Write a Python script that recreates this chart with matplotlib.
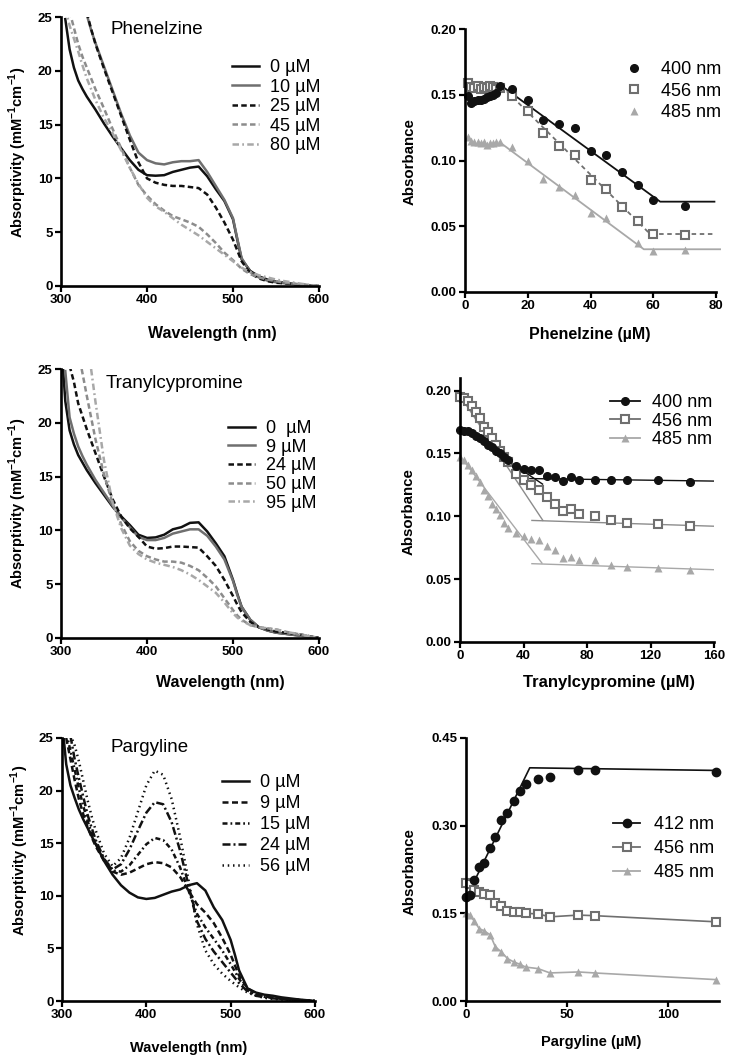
import numpy as np
import matplotlib.pyplot as plt
from matplotlib.lines import Line2D

plt.rcParams['font.family'] = ['Liberation Sans', 'DejaVu Sans']
plt.rcParams['mathtext.fontset'] = 'custom'
plt.rcParams['mathtext.rm'] = 'Liberation Sans'
plt.rcParams['mathtext.bf'] = 'Liberation Sans:bold'

nan = np.nan
W, H = 734, 1063

# ---------------- spectra (absorptivity, mM-1 cm-1) ----------------
WL = [302, 305, 310, 315, 320, 325, 330, 335, 340, 350, 360, 370, 380, 390, 400,
      410, 420, 430, 440, 450, 460, 470, 480, 490, 500, 505, 510, 520, 530, 540,
      550, 560, 580, 600]

phen_labels = ['0 µM', '10 µM', '25 µM', '45 µM', '80 µM']
phen_0 = [nan, 24.8, 22.0, 20.3, 19.1, 18.3, 17.6, 17.0, 16.4, 15.1, 13.9, 12.8, 11.7, 10.8, 10.3,
          10.25, 10.3, 10.6, 10.8, 11.0, 11.1, 10.2, 9.0, 7.9, 6.2, 4.3, 2.5, 1.4, 0.9, 0.6,
          0.4, 0.3, 0.1, 0.0]
phen_10 = [nan, nan, nan, nan, nan, nan, 25.2, 23.8, 22.6, 20.4, 18.2, 16.0, 14.0, 12.4, 11.7,
           11.4, 11.3, 11.5, 11.6, 11.6, 11.7, 10.6, 9.3, 8.0, 6.3, 4.4, 2.6, 1.3, 0.8, 0.5,
           0.35, 0.25, 0.1, 0.0]
phen_25 = [nan, nan, nan, nan, nan, nan, 25.4, 23.9, 22.5, 20.2, 18.0, 15.8, 13.6, 11.5, 10.0,
           9.6, 9.4, 9.3, 9.3, 9.2, 9.1, 8.5, 7.3, 5.9, 4.3, 3.3, 2.3, 1.2, 0.7, 0.45,
           0.3, 0.25, 0.1, 0.0]
phen_45 = [nan, nan, 25.5, 24.0, 22.5, 21.3, 20.3, 19.3, 18.3, 16.5, 14.6, 12.8, 11.0, 9.4, 8.4,
           7.6, 7.0, 6.5, 6.2, 5.9, 5.5, 4.8, 4.0, 3.1, 2.4, 2.0, 1.6, 1.1, 0.8, 0.6,
           0.45, 0.3, 0.15, 0.0]
phen_80 = [nan, 25.8, 24.2, 23.0, 21.8, 20.5, 19.3, 18.3, 17.3, 15.6, 14.2, 12.6, 11.0, 9.5, 8.2,
           7.4, 6.9, 6.3, 5.7, 5.2, 4.7, 4.1, 3.5, 2.9, 2.3, 2.0, 1.7, 1.3, 1.0, 0.8,
           0.6, 0.45, 0.2, 0.0]

tran_labels = ['0  µM', '9 µM', '24 µM', '50 µM', '95 µM']
tran_0 = [25.5, 22.0, 19.3, 18.0, 17.0, 16.3, 15.6, 15.0, 14.4, 13.3, 12.2, 11.3, 10.5, 9.6, 9.3,
          9.35, 9.6, 10.1, 10.3, 10.7, 10.75, 9.9, 8.8, 7.6, 5.4, 4.1, 2.9, 1.7, 1.0, 0.7,
          0.5, 0.4, 0.2, 0.0]
tran_9 = [nan, 24.8, 20.5, 19.0, 17.8, 16.9, 16.1, 15.4, 14.7, 13.5, 12.3, 11.2, 10.3, 9.4, 9.1,
          9.1, 9.3, 9.7, 9.9, 10.1, 10.1, 9.5, 8.5, 7.3, 5.3, 4.0, 2.9, 1.7, 1.0, 0.7,
          0.5, 0.4, 0.2, 0.0]
tran_24 = [nan, nan, 25.3, 23.8, 21.8, 20.6, 19.4, 18.3, 17.2, 15.0, 12.9, 11.3, 10.2, 9.4, 8.5,
           8.3, 8.35, 8.5, 8.5, 8.45, 8.4, 7.6, 6.7, 5.4, 3.9, 3.1, 2.4, 1.5, 1.0, 0.8,
           0.6, 0.5, 0.3, 0.0]
tran_50 = [nan, nan, nan, nan, 26.6, 24.6, 22.5, 20.5, 18.5, 15.2, 12.5, 10.6, 9.0, 8.1, 7.6,
           7.3, 7.1, 7.1, 7.0, 6.7, 6.3, 5.6, 4.8, 3.7, 2.6, 2.1, 1.7, 1.2, 1.0, 0.9,
           0.8, 0.6, 0.3, 0.0]
tran_95 = [nan, nan, nan, nan, nan, nan, nan, 25.0, 22.0, 16.5, 12.6, 10.2, 8.6, 7.8, 7.3,
           7.0, 6.8, 6.6, 6.3, 5.9, 5.4, 4.8, 4.2, 3.3, 2.3, 1.9, 1.6, 1.2, 1.0, 0.9,
           0.8, 0.6, 0.3, 0.0]

parg_labels = ['0 µM', '9 µM', '15 µM', '24 µM', '56 µM']
parg_0 = [25.0, 22.5, 20.5, 19.3, 18.2, 17.3, 16.5, 15.7, 14.9, 13.3, 12.0, 11.0, 10.3, 9.85, 9.7,
          9.8, 10.1, 10.4, 10.6, 11.0, 11.2, 10.5, 8.9, 7.7, 5.8, 4.4, 2.9, 1.2, 0.8, 0.6,
          0.5, 0.35, 0.15, 0.0]
parg_9 = [nan, 25.0, 23.0, 21.0, 19.2, 17.8, 16.6, 15.6, 14.7, 13.3, 12.3, 12.0, 12.2, 12.6, 13.0,
          13.2, 13.1, 12.7, 11.8, 10.5, 9.2, 8.4, 7.4, 6.0, 4.4, 3.4, 2.4, 1.2, 0.7, 0.45,
          0.3, 0.2, 0.1, 0.0]
parg_15 = [nan, 25.5, 23.8, 22.0, 20.2, 18.6, 17.2, 16.0, 15.0, 13.4, 12.4, 12.3, 12.9, 13.9, 14.9,
           15.5, 15.3, 14.4, 12.7, 10.5, 8.3, 7.0, 5.9, 4.8, 3.5, 2.8, 2.1, 1.0, 0.6, 0.4,
           0.3, 0.2, 0.1, 0.0]
parg_24 = [nan, nan, 25.2, 23.0, 21.2, 19.5, 17.8, 16.5, 15.3, 13.5, 12.5, 13.0, 14.4, 16.2, 17.9,
           18.9, 18.7, 17.0, 14.3, 11.0, 7.6, 5.9, 4.7, 3.7, 2.7, 2.2, 1.7, 0.9, 0.5, 0.35,
           0.25, 0.2, 0.1, 0.0]
parg_56 = [nan, nan, 25.3, 24.3, 22.8, 21.0, 19.2, 17.6, 16.2, 14.0, 12.8, 13.6, 15.5, 18.0, 20.5,
           21.9, 21.5, 19.2, 15.6, 11.5, 7.3, 4.8, 3.5, 2.6, 1.9, 1.6, 1.3, 0.8, 0.5, 0.3,
           0.2, 0.15, 0.05, 0.0]

# ---------------- titrations (absorbance) ----------------
phen_c = [1, 2, 3, 4, 5, 6, 7, 8, 9, 10, 11, 15, 20, 25, 30, 35, 40, 45, 50, 55, 60, 70]
phen_a400 = [0.149, 0.144, 0.145, 0.146, 0.146, 0.147, 0.148, 0.149, 0.150, 0.151, 0.157,
             0.154, 0.146, 0.131, 0.1275, 0.125, 0.107, 0.104, 0.0915, 0.081, 0.070, 0.0657]
phen_a456 = [0.159, 0.156, 0.155, 0.157, 0.154, 0.156, 0.155, 0.157, 0.156, 0.154, 0.155,
             0.149, 0.1376, 0.1207, 0.111, 0.104, 0.085, 0.078, 0.065, 0.054, 0.044, 0.043]
phen_a485 = [0.118, 0.115, 0.114, 0.114, 0.113, 0.114, 0.112, 0.113, 0.113, 0.114, 0.114,
             0.110, 0.0995, 0.086, 0.080, 0.074, 0.060, 0.056, nan, 0.037, 0.031, 0.032]
phen_fit400_c, phen_fit400_a = [11.5, 62.2, 79.5], [0.157, 0.0687, 0.0687]
phen_fit456_c, phen_fit456_a = [11.5, 59.0, 79.5], [0.157, 0.0441, 0.0441]
phen_fit485_c, phen_fit485_a = [11.0, 57.0, 81.3], [0.114, 0.0325, 0.0325]

tran_c = [0, 2.5, 5, 7.5, 10, 12.5, 15, 17.5, 20, 22.5, 25, 27.5, 30, 35, 40, 45, 50, 55, 60,
          65, 70, 75, 85, 95, 105, 125, 145]
tran_a400 = [0.169, 0.168, 0.168, 0.166, 0.164, 0.162, 0.160, 0.157, 0.155, 0.152, 0.150, 0.147,
             0.145, 0.140, 0.138, 0.137, 0.137, 0.132, 0.131, 0.128, 0.131, 0.129, 0.129, 0.129,
             0.1285, 0.1285, 0.127]
tran_a456 = [0.195, 0.194, 0.192, 0.188, 0.183, 0.178, 0.171, 0.167, 0.162, 0.157, 0.152, 0.147,
             0.143, 0.134, 0.129, 0.125, 0.121, 0.115, 0.110, 0.104, 0.106, 0.102, 0.100, 0.097,
             0.095, 0.0935, 0.092]
tran_a485 = [0.147, 0.145, 0.141, 0.137, 0.132, 0.127, 0.121, 0.116, 0.110, 0.106, 0.101, 0.095,
             0.091, 0.087, 0.084, 0.082, 0.081, 0.076, 0.073, 0.067, 0.068, 0.0655, 0.065, 0.061,
             0.060, 0.0586, 0.0575]
tran_fit400_c, tran_fit400_a = [0, 52], [0.170, 0.1256]
tran_flat400_c, tran_flat400_a = [44, 160], [0.130, 0.128]
tran_fit456_c, tran_fit456_a = [0, 52.2], [0.196, 0.0967]
tran_flat456_c, tran_flat456_a = [45.3, 160], [0.0967, 0.0921]
tran_fit485_c, tran_fit485_a = [0, 51.6], [0.148, 0.0628]
tran_flat485_c, tran_flat485_a = [45.3, 160], [0.0623, 0.0575]

parg_c = [0, 2, 4, 6.5, 9, 12, 14.5, 17.5, 20.5, 23.5, 26.5, 29.5, 35.5, 41.5, 55.5, 63.5, 123.5]
parg_a412 = [0.178, 0.181, 0.207, 0.229, 0.236, 0.261, 0.280, 0.309, 0.322, 0.343, 0.359, 0.371,
             0.379, 0.383, 0.396, 0.395, 0.392]
parg_a456 = [0.202, 0.200, 0.190, 0.186, 0.183, 0.181, 0.167, 0.163, 0.154, 0.153, 0.153, 0.150,
             0.149, 0.144, 0.147, 0.146, 0.1355]
parg_a485 = [0.151, 0.147, 0.137, 0.124, 0.120, 0.113, 0.0926, 0.084, 0.0726, 0.067, 0.063, 0.058,
             0.0555, 0.048, 0.0497, 0.048, 0.0366]
parg_fit412_c, parg_fit412_a = [2, 31.5, 123.5], [0.190, 0.399, 0.3945]

# ---------------- styles ----------------
BLK = '#111111'
G1 = '#6f6f6f'
G2 = '#8c8c8c'
G3 = '#a8a8a8'
LEG = 13
spec_styles = [
    dict(color=BLK, ls='-'),
    dict(color=G1, ls='-'),
    dict(color=BLK, ls=(0, (2.2, 1.3))),
    dict(color=G2, ls=(0, (2.2, 1.3))),
    dict(color=G3, ls=(0, (2.6, 1.3, 0.7, 1.3))),
]
parg_styles = [
    dict(color=BLK, ls='-'),
    dict(color=BLK, ls=(0, (2.4, 1.4))),
    dict(color=BLK, ls=(0, (2.0, 1.2, 0.7, 1.2))),
    dict(color=BLK, ls=(0, (3.2, 1.2, 0.8, 1.2))),
    dict(color=BLK, ls=(0, (0.6, 1.5))),
]

fig = plt.figure(figsize=(W / 100, H / 100), dpi=100)


def add_ax(left, top, right, bottom):
    return fig.add_axes([left / W, 1 - bottom / H, (right - left) / W, (bottom - top) / H])


def style(ax):
    for s in ['top', 'right']:
        ax.spines[s].set_visible(False)
    for s in ['left', 'bottom']:
        ax.spines[s].set_linewidth(1.9)
    ax.tick_params(direction='out', length=4, width=1.6, labelsize=9.5, pad=2)
    for lab in ax.get_xticklabels() + ax.get_yticklabels():
        lab.set_fontweight('bold')


def fig_text(x, y, s, **kw):
    fig.text(x / W, 1 - y / H, s, **kw)


def spectra(ax, curves, labels, styles, leg_xy, spacing):
    for y, lab, st in zip(curves, labels, styles):
        ax.plot(WL, y, lw=1.8, label=lab, **st)
    ax.set_xlim(300, 600)
    ax.set_ylim(0, 25)
    ax.set_xticks([300, 400, 500, 600])
    ax.set_yticks([0, 5, 10, 15, 20, 25])
    style(ax)
    ax.legend(loc='upper left', bbox_to_anchor=(leg_xy[0] / W, 1 - leg_xy[1] / H),
              bbox_transform=fig.transFigure, frameon=False, prop={'size': LEG},
              handlelength=1.5, handletextpad=0.6, borderpad=0, borderaxespad=0,
              labelspacing=spacing)


ylab_spec = r'Absorptivity (mM$^{\mathbf{-1}}$cm$^{\mathbf{-1}}$)'

# ---- Phenelzine spectra ----
ax1 = add_ax(61, 17, 319, 286)
spectra(ax1, [phen_0, phen_10, phen_25, phen_45, phen_80], phen_labels, spec_styles, (232, 59), 0.14)
fig_text(110, 30, 'Phenelzine', fontsize=13.5, va='center')
fig_text(212, 334, 'Wavelength (nm)', fontsize=11.5, fontweight='bold', ha='center', va='center')
fig_text(18, 152, ylab_spec, fontsize=10.5, fontweight='bold', rotation=90, ha='center', va='center')

# ---- Tranylcypromine spectra ----
ax3 = add_ax(61, 369, 319, 638)
spectra(ax3, [tran_0, tran_9, tran_24, tran_50, tran_95], tran_labels, spec_styles, (228, 420), 0.09)
fig_text(106, 383, 'Tranylcypromine', fontsize=13.5, va='center')
fig_text(220, 682, 'Wavelength (nm)', fontsize=11.5, fontweight='bold', ha='center', va='center')
fig_text(18, 503, ylab_spec, fontsize=10.5, fontweight='bold', rotation=90, ha='center', va='center')

# ---- Pargyline spectra ----
ax5 = add_ax(62, 738, 315, 1001)
spectra(ax5, [parg_0, parg_9, parg_15, parg_24, parg_56], parg_labels, parg_styles, (222, 774), 0.22)
fig_text(110, 748, 'Pargyline', fontsize=13.5, va='center')
fig_text(189, 1048, 'Wavelength (nm)', fontsize=10.5, fontweight='bold', ha='center', va='center')
fig_text(20, 850, ylab_spec, fontsize=10.5, fontweight='bold', rotation=90, ha='center', va='center')

# ---- Phenelzine titration ----
ax2 = add_ax(465, 29, 716, 292)
ax2.plot(phen_fit400_c, phen_fit400_a, color=BLK, lw=1.3, clip_on=False)
ax2.plot(phen_fit456_c, phen_fit456_a, color=G1, lw=1.3, ls=(0, (2.5, 2)), clip_on=False)
ax2.plot(phen_fit485_c, phen_fit485_a, color=G3, lw=1.3, clip_on=False)
ax2.plot(phen_c, phen_a485, '^', color=G3, ms=5.5, mec='none', ls='none', clip_on=False, label='485 nm')
ax2.plot(phen_c, phen_a456, 's', mfc='white', mec=G1, mew=1.5, ms=5.8, ls='none', clip_on=False, label='456 nm')
ax2.plot(phen_c, phen_a400, 'o', color=BLK, ms=5.5, ls='none', clip_on=False, label='400 nm')
ax2.set_xlim(0, 80)
ax2.set_ylim(0, 0.20)
ax2.set_xticks([0, 20, 40, 60, 80])
ax2.set_yticks([0, 0.05, 0.10, 0.15, 0.20])
ax2.yaxis.set_major_formatter('{x:.2f}')
style(ax2)
h, l = ax2.get_legend_handles_labels()
ax2.legend(h[::-1], l[::-1], loc='upper left', bbox_to_anchor=(625 / W, 1 - 61 / H),
           bbox_transform=fig.transFigure, frameon=False, prop={'size': LEG}, numpoints=1,
           handlelength=1.0, handletextpad=1.0, borderpad=0, borderaxespad=0, labelspacing=0.26)
fig_text(590, 335, 'Phenelzine (µM)', fontsize=11.5, fontweight='bold', ha='center', va='center')
fig_text(410, 162, 'Absorbance', fontsize=10.8, fontweight='bold', rotation=90, ha='center', va='center')

# ---- Tranylcypromine titration ----
ax4 = add_ax(460, 378, 714, 642)
ax4.plot(tran_fit400_c, tran_fit400_a, color=BLK, lw=1.0)
ax4.plot(tran_flat400_c, tran_flat400_a, color=BLK, lw=1.0)
ax4.plot(tran_fit456_c, tran_fit456_a, color=G2, lw=1.0)
ax4.plot(tran_flat456_c, tran_flat456_a, color=G2, lw=1.0)
ax4.plot(tran_fit485_c, tran_fit485_a, color=G3, lw=1.0)
ax4.plot(tran_flat485_c, tran_flat485_a, color=G3, lw=1.0)
ax4.plot(tran_c, tran_a485, '^', color=G3, ms=5.5, mec='none', ls='none', clip_on=False)
ax4.plot(tran_c, tran_a456, 's', mfc='white', mec=G1, mew=1.5, ms=6, ls='none', clip_on=False)
ax4.plot(tran_c, tran_a400, 'o', color=BLK, ms=5.5, ls='none', clip_on=False)
ax4.set_xlim(0, 160)
ax4.set_ylim(0, 0.21)
ax4.set_xticks([0, 40, 80, 120, 160])
ax4.set_yticks([0, 0.05, 0.10, 0.15, 0.20])
ax4.yaxis.set_major_formatter('{x:.2f}')
style(ax4)
hd4 = [Line2D([], [], color=BLK, lw=1.3, marker='o', ms=5.5),
       Line2D([], [], color=G1, lw=1.3, marker='s', mfc='white', mec=G1, mew=1.5, ms=6),
       Line2D([], [], color=G3, lw=1.3, marker='^', mec='none', ms=5.5)]
ax4.legend(hd4, ['400 nm', '456 nm', '485 nm'], loc='upper left',
           bbox_to_anchor=(610 / W, 1 - 394 / H), bbox_transform=fig.transFigure, frameon=False,
           prop={'size': LEG}, handlelength=1.65, handletextpad=0.65, borderpad=0, borderaxespad=0,
           labelspacing=0.09)
fig_text(609, 682, 'Tranylcypromine (µM)', fontsize=12, fontweight='bold', ha='center', va='center')
fig_text(409, 512, 'Absorbance', fontsize=10.8, fontweight='bold', rotation=90, ha='center', va='center')

# ---- Pargyline titration ----
ax6 = add_ax(466, 738, 719, 1001)
ax6.plot(parg_fit412_c, parg_fit412_a, color=BLK, lw=1.2)
ax6.plot(parg_c, parg_a485, '-^', color=G3, lw=1.2, ms=5.5, mec='none', clip_on=False)
ax6.plot(parg_c, parg_a456, '-s', color=G1, lw=1.2, mfc='white', mec=G1, mew=1.5, ms=6, clip_on=False)
ax6.plot(parg_c, parg_a412, 'o', color=BLK, ms=6, ls='none', clip_on=False)
ax6.set_xlim(0, 125)
ax6.set_ylim(0, 0.45)
ax6.set_xticks([0, 50, 100])
ax6.set_yticks([0, 0.15, 0.30, 0.45])
ax6.yaxis.set_major_formatter('{x:.2f}')
style(ax6)
hd6 = [Line2D([], [], color=BLK, lw=1.3, marker='o', ms=6),
       Line2D([], [], color=G1, lw=1.3, marker='s', mfc='white', mec=G1, mew=1.5, ms=6),
       Line2D([], [], color=G3, lw=1.3, marker='^', mec='none', ms=5.5)]
ax6.legend(hd6, ['412 nm', '456 nm', '485 nm'], loc='upper left',
           bbox_to_anchor=(613 / W, 1 - 816 / H), bbox_transform=fig.transFigure, frameon=False,
           prop={'size': LEG}, handlelength=1.5, handletextpad=0.75, borderpad=0, borderaxespad=0,
           labelspacing=0.4)
fig_text(591, 1042, 'Pargyline (µM)', fontsize=10.5, fontweight='bold', ha='center', va='center')
fig_text(410, 872, 'Absorbance', fontsize=10.8, fontweight='bold', rotation=90, ha='center', va='center')

fig.savefig('out.png', dpi=100)
